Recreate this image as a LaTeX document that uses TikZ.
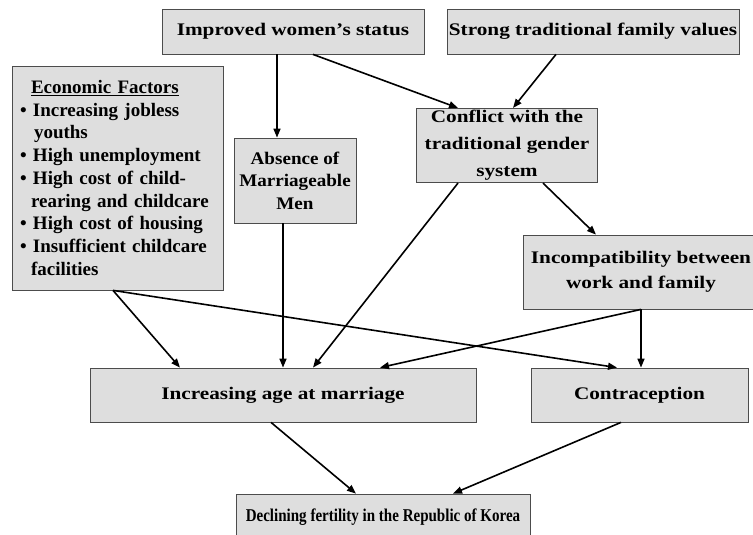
\documentclass[tikz,border=0pt]{standalone}
\usepackage{fontspec}
\setmainfont{Liberation Serif}
\newfontfamily\widerm[FakeStretch=1.2]{Liberation Serif}
\newfontfamily\midrm[FakeStretch=1.08]{Liberation Serif}
\newfontfamily\narrowrm[FakeStretch=0.835]{Liberation Serif}
\usepackage{tikz}
\usetikzlibrary{arrows.meta, positioning}
\tikzset{
    factorBox/.style={rectangle, draw=black!70, fill=black!13, line width=0.8pt, inner sep=2pt,
        align=center, font=\widerm\bfseries\fontsize{17.7}{27}\selectfont},
    causeArrow/.style={-{Triangle[length=9pt, width=7pt]}, line width=1.6pt}
}

\begin{document}
\begin{tikzpicture}[x=1pt, y=-1pt]
    \useasboundingbox (0,0) rectangle (753,535);
    \node[factorBox, minimum width=262, minimum height=45] (impr) at (293,31.5) {Improved women’s status};
    \node[factorBox, minimum width=288, minimum height=45] (strong) at (593,31.5) {Strong traditional family values};
    \node[factorBox, minimum width=211, minimum height=224, align=left, text width=195, inner xsep=8pt,
        font=\rmfamily\bfseries\fontsize{19}{22.75}\selectfont] (econ) at (117.5,178) {%
        \hspace*{11pt}\underline{Economic Factors}\\
        \textbullet{} Increasing jobless\\
        \hspace*{14pt}youths\\
        \textbullet{} High unemployment\\
        \textbullet{} High cost of child-\\
        \hspace*{11pt}rearing and childcare\\
        \textbullet{} High cost of housing\\
        \textbullet{} Insufficient childcare\\
        \hspace*{11pt}facilities};
    \node[factorBox, minimum width=122, minimum height=85,
        font=\midrm\bfseries\fontsize{17.7}{22.5}\selectfont] (absence) at (295,180.5) {Absence of\\Marriageable\\Men};
    \node[factorBox, minimum width=181, minimum height=73] (conflict) at (507,145.5) {Conflict with the\\traditional gender\\system};
    \node[factorBox, minimum width=236, minimum height=74,
        font=\widerm\bfseries\fontsize{17.7}{25}\selectfont] (incompat) at (641,272) {Incompatibility between\\work and family};
    \node[factorBox, minimum width=386, minimum height=54] (incr) at (283,395) {Increasing age at marriage};
    \node[factorBox, minimum width=217, minimum height=54] (contra) at (639.5,395) {Contraception};
    \node[factorBox, minimum width=294, minimum height=46,
        font=\narrowrm\bfseries\fontsize{18}{22}\selectfont] (decl) at (383,517) {Declining fertility in the Republic of Korea};

    \draw[causeArrow] ([xshift=-16]impr.south) -- ([xshift=-18]absence.north);
    \draw[causeArrow] ([xshift=20]impr.south) -- ([xshift=-49]conflict.north);
    \draw[causeArrow] ([xshift=-37]strong.south) -- ([xshift=6]conflict.north);
    \draw[causeArrow] ([xshift=-12]absence.south) -- (incr.north);
    \draw[causeArrow] ([xshift=-49]conflict.south) -- ([xshift=30]incr.north);
    \draw[causeArrow] ([xshift=36]conflict.south) -- ([xshift=-45]incompat.north);
    \draw[causeArrow] ([xshift=-4.5]econ.south) -- ([xshift=-103]incr.north);
    \draw[causeArrow] ([xshift=-4.5]econ.south) -- ([xshift=-22.5]contra.north);
    \draw[causeArrow] (incompat.south) -- ([xshift=1.5]contra.north);
    \draw[causeArrow] (incompat.south) -- ([xshift=97]incr.north);
    \draw[causeArrow] ([xshift=-12]incr.south) -- ([xshift=-27]decl.north);
    \draw[causeArrow] ([xshift=-18.5]contra.south) -- ([xshift=70]decl.north);
\end{tikzpicture}
\end{document}
